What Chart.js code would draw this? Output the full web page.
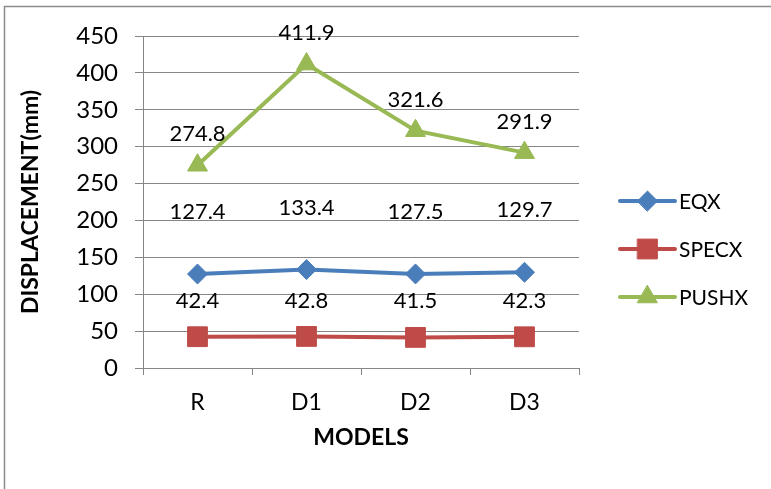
<!DOCTYPE html>
<html>
<head>
<meta charset="utf-8">
<script src="https://cdn.jsdelivr.net/npm/chart.js@4/dist/chart.umd.min.js"></script>
<style>
  html, body { margin: 0; padding: 0; background: #ffffff; }
  #wrap { width: 771px; height: 489px; position: relative; }
</style>
</head>
<body>
<div id="wrap"><canvas id="c" width="771" height="489"></canvas></div>
<script>
// Models compared and the peak displacement of each load case (mm)
const models = ['R', 'D1', 'D2', 'D3'];
const eqx   = [127.4, 133.4, 127.5, 129.7];
const specx = [42.4, 42.8, 41.5, 42.3];
const pushx = [274.8, 411.9, 321.6, 291.9];
const yTicks = [0, 50, 100, 150, 200, 250, 300, 350, 400, 450];

const FONT = 'Lato, "Open Sans", "Liberation Sans", sans-serif';
const GRID = '#868686';

// Outer frame of the chart
const framePlugin = {
  id: 'frame',
  beforeDraw(chart) {
    const ctx = chart.ctx;
    ctx.save();
    ctx.fillStyle = '#ffffff';
    ctx.fillRect(0, 0, chart.width, chart.height);
    ctx.strokeStyle = '#8c8c8c';
    ctx.lineWidth = 1.5;
    ctx.strokeRect(4.5, 6.5, chart.width + 20, chart.height + 20);
    ctx.restore();
  }
};

// Value labels above each point; offset differs per series
const labelPlugin = {
  id: 'valueLabels',
  afterDatasetsDraw(chart) {
    const ctx = chart.ctx;
    ctx.save();
    ctx.font = '22px ' + FONT;
    ctx.fillStyle = '#000000';
    ctx.textAlign = 'center';
    ctx.textBaseline = 'middle';
    chart.data.datasets.forEach((ds, di) => {
      const meta = chart.getDatasetMeta(di);
      meta.data.forEach((pt, i) => {
        ctx.fillText(ds.data[i].toFixed(1), pt.x, pt.y - ds.labelOffset);
      });
    });
    ctx.restore();
  }
};

// Legend with line-and-marker swatches on the right
const legendPlugin = {
  id: 'sideLegend',
  afterDraw(chart) {
    const ctx = chart.ctx;
    const x0 = 620, x1 = 675, tx = 679;
    const rows = [201, 249, 297];
    ctx.save();
    chart.data.datasets.forEach((ds, di) => {
      const y = rows[di];
      ctx.strokeStyle = ds.borderColor;
      ctx.lineWidth = 4;
      ctx.lineCap = 'round';
      ctx.beginPath();
      ctx.moveTo(x0, y);
      ctx.lineTo(x1, y);
      ctx.stroke();
      ctx.fillStyle = ds.pointBackgroundColor;
      ctx.strokeStyle = ds.pointBorderColor;
      ctx.lineWidth = 1;
      Chart.helpers.drawPoint(ctx, {
        pointStyle: ds.pointStyle,
        radius: ds.pointRadius,
        rotation: 0,
        borderWidth: 1
      }, (x0 + x1) / 2, y);
      ctx.fillStyle = '#000000';
      ctx.font = '21px ' + FONT;
      ctx.textAlign = 'left';
      ctx.textBaseline = 'middle';
      ctx.fillText(ds.label, tx, y + 1);
    });
    ctx.restore();
  }
};

function series(label, data, color, style, radius, offset) {
  return {
    label, data,
    borderColor: color,
    backgroundColor: color,
    borderWidth: 4,
    pointStyle: style,
    pointRadius: radius,
    pointHoverRadius: radius,
    pointBackgroundColor: color,
    pointBorderColor: color,
    pointBorderWidth: 1,
    tension: 0,
    fill: false,
    labelOffset: offset
  };
}

new Chart(document.getElementById('c'), {
  type: 'line',
  data: {
    labels: models,
    datasets: [
      series('EQX', eqx, '#4A7EBB', 'rectRot', 10, 62),
      series('SPECX', specx, '#BE4B48', 'rect', 14, 36),
      series('PUSHX', pushx, '#98B954', 'triangle', 11.5, 31)
    ]
  },
  options: {
    responsive: false,
    animation: false,
    events: [],
    layout: { padding: { left: 0, top: 36, right: 192, bottom: 20 } },
    plugins: {
      legend: { display: false },
      tooltip: { enabled: false }
    },
    scales: {
      x: {
        offset: true,
        grid: {
          offset: true,
          drawOnChartArea: false,
          color: GRID,
          tickLength: 7,
          tickColor: GRID
        },
        border: { color: GRID, width: 1 },
        ticks: { color: '#000000', font: { family: FONT, size: 23 }, padding: 14 },
        title: {
          display: true,
          text: 'MODELS',
          color: '#000000',
          font: { family: FONT, size: 23, weight: 'bold' },
          padding: { top: 0, bottom: 18 }
        },
        afterFit(scale) { scale.height = 101; }
      },
      y: {
        min: 0,
        max: 450,
        afterBuildTicks(scale) { scale.ticks = yTicks.map(v => ({ value: v })); },
        grid: { color: GRID, tickLength: 8, tickColor: GRID },
        border: { color: GRID, width: 1 },
        ticks: { color: '#000000', font: { family: FONT, size: 24 }, padding: 17 },
        title: {
          display: true,
          text: 'DISPLACEMENT(mm)',
          color: '#000000',
          font: { family: FONT, size: 23, weight: 'bold' },
          padding: { top: 17, bottom: 0 }
        },
        afterFit(scale) { scale.width = 143; }
      }
    }
  },
  plugins: [framePlugin, labelPlugin, legendPlugin]
});
</script>
</body>
</html>
